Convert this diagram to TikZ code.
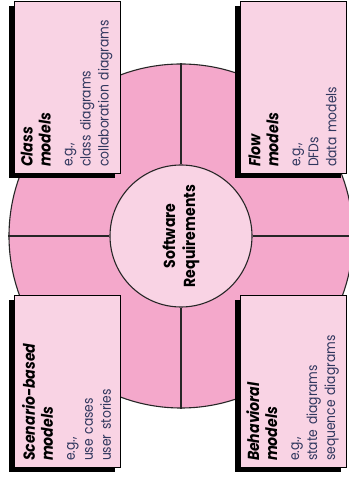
\documentclass[tikz,border=0pt]{standalone}
\usepackage{fontspec}
\setmainfont{Poppins}[FakeStretch=0.88]
\usetikzlibrary{shadows}
\definecolor{Ring}{HTML}{F4A8CB}
\definecolor{Card}{HTML}{F9D3E4}
\definecolor{Ink}{HTML}{30375E}
\hyphenpenalty=10000 \exhyphenpenalty=10000

\begin{document}
\begin{tikzpicture}[x=1pt,y=1pt,line width=1.1pt,every node/.style={inner sep=0pt},
card/.style={draw=black,line width=0.7pt,fill=Card,minimum width=106pt,minimum height=172pt,
  drop shadow={shadow xshift=-5.5pt,shadow yshift=-5pt,fill=black,opacity=1}},
cardtext/.style={rotate=90,yshift=1pt,text width=160pt,align=left,text=Ink,font=\fontsize{14}{18}\selectfont},
hub/.style={circle,draw=black!85,fill=Card,minimum size=142pt}]
\useasboundingbox (0,0) rectangle (348,481);
\node[circle,draw=black!85,fill=Ring,minimum size=344pt] (ring) at (181,245) {};
\node[hub] (core) at (181,245) {};
\draw[black!85] (core.north)--(ring.north);\draw[black!85] (core.south)--(ring.south);
\draw[black!85] (core.west)--(ring.west);\draw[black!85] (core.east)--(ring.east);
\node[rotate=90,align=center,font=\bfseries\fontsize{16}{20}\selectfont] (coretext) at (core.center) {Software\\Requirements};
\node[card] (class) at (67.5,394) {};
\node[card] (flow) at (293.5,394) {};
\node[card] (scenario) at (67.5,100) {};
\node[card] (behavior) at (293.5,100) {};
\node[cardtext] (classtext) at (class.center) {{\color{black}\bfseries\itshape\fontsize{16}{19.5}\selectfont Class\\models}\\[4pt]e.g.,\\class diagrams\\collaboration diagrams};
\node[cardtext] (flowtext) at (flow.center) {{\color{black}\bfseries\itshape\fontsize{16}{19.5}\selectfont Flow\\models}\\[4pt]e.g.,\\DFDs\\data models};
\node[cardtext] (scenariotext) at (scenario.center) {{\color{black}\bfseries\itshape\fontsize{16}{19.5}\selectfont Scenario-based\\models}\\[4pt]e.g.,\\use cases\\user stories};
\node[cardtext] (behaviortext) at (behavior.center) {{\color{black}\bfseries\itshape\fontsize{16}{19.5}\selectfont Behavioral\\models}\\[4pt]e.g.,\\state diagrams\\sequence diagrams};
\end{tikzpicture}
\end{document}
